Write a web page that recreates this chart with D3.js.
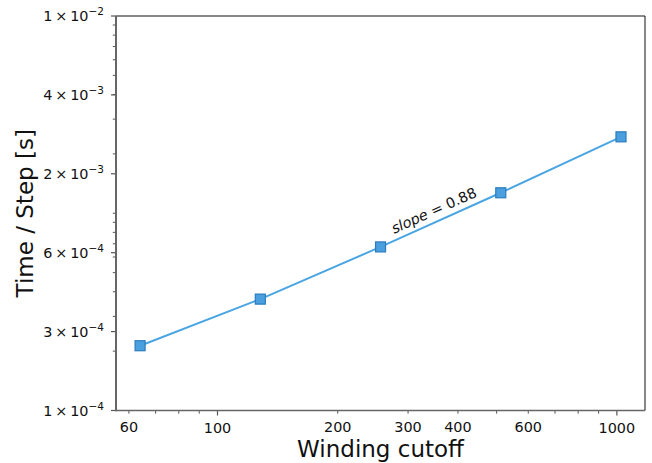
<!DOCTYPE html>
<html>
<head>
<meta charset="utf-8">
<script src="https://cdn.jsdelivr.net/npm/d3@7"></script>
<style>
  html, body { margin: 0; padding: 0; background: #fff; }
  svg { display: block; font-family: "DejaVu Sans", sans-serif; }
</style>
</head>
<body>
<svg id="chart" width="652" height="463"></svg>
<script>
// Winding cutoff vs. time per step (log-log)
const cutoffs = [64, 128, 256, 512, 1024];
const timePerStep = [2.13e-4, 3.67e-4, 6.75e-4, 1.27e-3, 2.44e-3];
const slopeText = "0.88";

// Axis limits and tick labels
const xLimits = [55.7, 1176];
const yLimits = [1e-4, 1e-2];
const xTickValues = [60, 100, 200, 300, 400, 600, 1000];
const xTickLabels = ["60", "100", "200", "300", "400", "600", "1000"];
const yTickExponents = [-4, -3.6, -3.2, -2.8, -2.4, -2];
const yTickMantissas = ["1", "3", "6", "2", "4", "1"];
const yTickPowers = ["−4", "−4", "−4", "−3", "−3", "−2"];

const svg = d3.select("#chart");
const M = { left: 116, right: 645, top: 16, bottom: 410.5 };

const x = d3.scaleLog().domain(xLimits).range([M.left, M.right]);
const y = d3.scaleLog().domain(yLimits).range([M.bottom, M.top]);

// minor tick positions on log scales
const xMinor = [];
[10, 100, 1000].forEach(p => { for (let k = 1; k <= 9; k++) { const v = k * p; if (v >= xLimits[0] && v <= xLimits[1]) xMinor.push(v); } });
const yMinor = [];
[1e-4, 1e-3].forEach(p => { for (let k = 1; k <= 9; k++) { const v = k * p; if (v > yLimits[0] && v < yLimits[1]) yMinor.push(v); } });

const tickColor = "#555";
const g = svg.append("g");

// x minor tick marks
g.selectAll("line.xminor").data(xMinor.filter(v => v !== 100 && v !== 1000)).join("line")
  .attr("x1", d => x(d)).attr("x2", d => x(d))
  .attr("y1", M.bottom).attr("y2", M.bottom + 3.2)
  .attr("stroke", tickColor).attr("stroke-width", 1);
// x major tick marks
g.selectAll("line.xmajor").data([100, 1000]).join("line")
  .attr("x1", d => x(d)).attr("x2", d => x(d))
  .attr("y1", M.bottom).attr("y2", M.bottom + 5)
  .attr("stroke", tickColor).attr("stroke-width", 1.2);
// x tick labels
g.selectAll("text.xtl").data(xTickValues).join("text")
  .attr("x", d => x(d))
  .attr("y", (d, i) => (d === 100 || d === 1000) ? 433 : 432)
  .attr("text-anchor", "middle")
  .attr("font-size", 14.4).attr("fill", "#111")
  .text((d, i) => xTickLabels[i]);

// y minor tick marks
g.selectAll("line.yminor").data(yMinor).join("line")
  .attr("x1", M.left - 3.2).attr("x2", M.left)
  .attr("y1", d => y(d)).attr("y2", d => y(d))
  .attr("stroke", tickColor).attr("stroke-width", 1);
// y major tick marks with math-style labels
const yMajor = yTickExponents.map(e => Math.pow(10, e));
g.selectAll("line.ymajor").data(yMajor).join("line")
  .attr("x1", M.left - 5).attr("x2", M.left)
  .attr("y1", d => y(d)).attr("y2", d => y(d))
  .attr("stroke", tickColor).attr("stroke-width", 1.2);
const yl = g.selectAll("text.ytl").data(yMajor).join("text")
  .attr("x", M.left - 12)
  .attr("y", d => y(d) + 5)
  .attr("text-anchor", "end")
  .attr("font-size", 14.4).attr("fill", "#111");
yl.append("tspan").text((d, i) => yTickMantissas[i] + "\u2009×\u200910");
yl.append("tspan").attr("dy", -6).attr("font-size", 10.5).text((d, i) => yTickPowers[i]);

// spines
g.append("line").attr("x1", M.left).attr("x2", M.right).attr("y1", M.top).attr("y2", M.top)
  .attr("stroke", "#111").attr("stroke-width", 1);
g.append("line").attr("x1", M.right).attr("x2", M.right).attr("y1", M.top).attr("y2", M.bottom)
  .attr("stroke", "#111").attr("stroke-width", 1);
g.append("line").attr("x1", M.left).attr("x2", M.right).attr("y1", M.bottom).attr("y2", M.bottom)
  .attr("stroke", "#666").attr("stroke-width", 1.5);
g.append("line").attr("x1", M.left).attr("x2", M.left).attr("y1", M.top).attr("y2", M.bottom + 0.7)
  .attr("stroke", "#666").attr("stroke-width", 2);

// data line
const pts = cutoffs.map((c, i) => [c, timePerStep[i]]);
g.append("path")
  .attr("d", d3.line().x(d => x(d[0])).y(d => y(d[1]))(pts))
  .attr("fill", "none").attr("stroke", "#4aa5e3").attr("stroke-width", 2);

// square markers
const ms = 10;
g.selectAll("rect.pt").data(pts).join("rect")
  .attr("x", d => x(d[0]) - ms / 2).attr("y", d => y(d[1]) - ms / 2)
  .attr("width", ms).attr("height", ms)
  .attr("fill", "#4a9fde").attr("stroke", "#2c7bbd").attr("stroke-width", 1.2);

// slope annotation, aligned with the segment between 3rd and 4th points
const ax = x(cutoffs[2]), ay = y(timePerStep[2]);
const bx = x(cutoffs[3]), by = y(timePerStep[3]);
const ang = Math.atan2(by - ay, bx - ax) * 180 / Math.PI;
const lx = 436, ly = 215;
const st = g.append("text")
  .attr("transform", `translate(${lx},${ly}) rotate(${ang})`)
  .attr("text-anchor", "middle")
  .attr("font-size", 14.4).attr("fill", "#111");
st.append("tspan").attr("font-style", "italic").text("slope");
st.append("tspan").text(" = " + slopeText);

// axis titles
svg.append("text")
  .attr("x", (M.left + M.right) / 2).attr("y", 457)
  .attr("text-anchor", "middle").attr("font-size", 23).attr("fill", "#111")
  .text("Winding cutoff");
svg.append("text")
  .attr("transform", `translate(33,${(M.top + M.bottom) / 2}) rotate(-90)`)
  .attr("text-anchor", "middle").attr("font-size", 23).attr("fill", "#111")
  .text("Time / Step [s]");
</script>
</body>
</html>
